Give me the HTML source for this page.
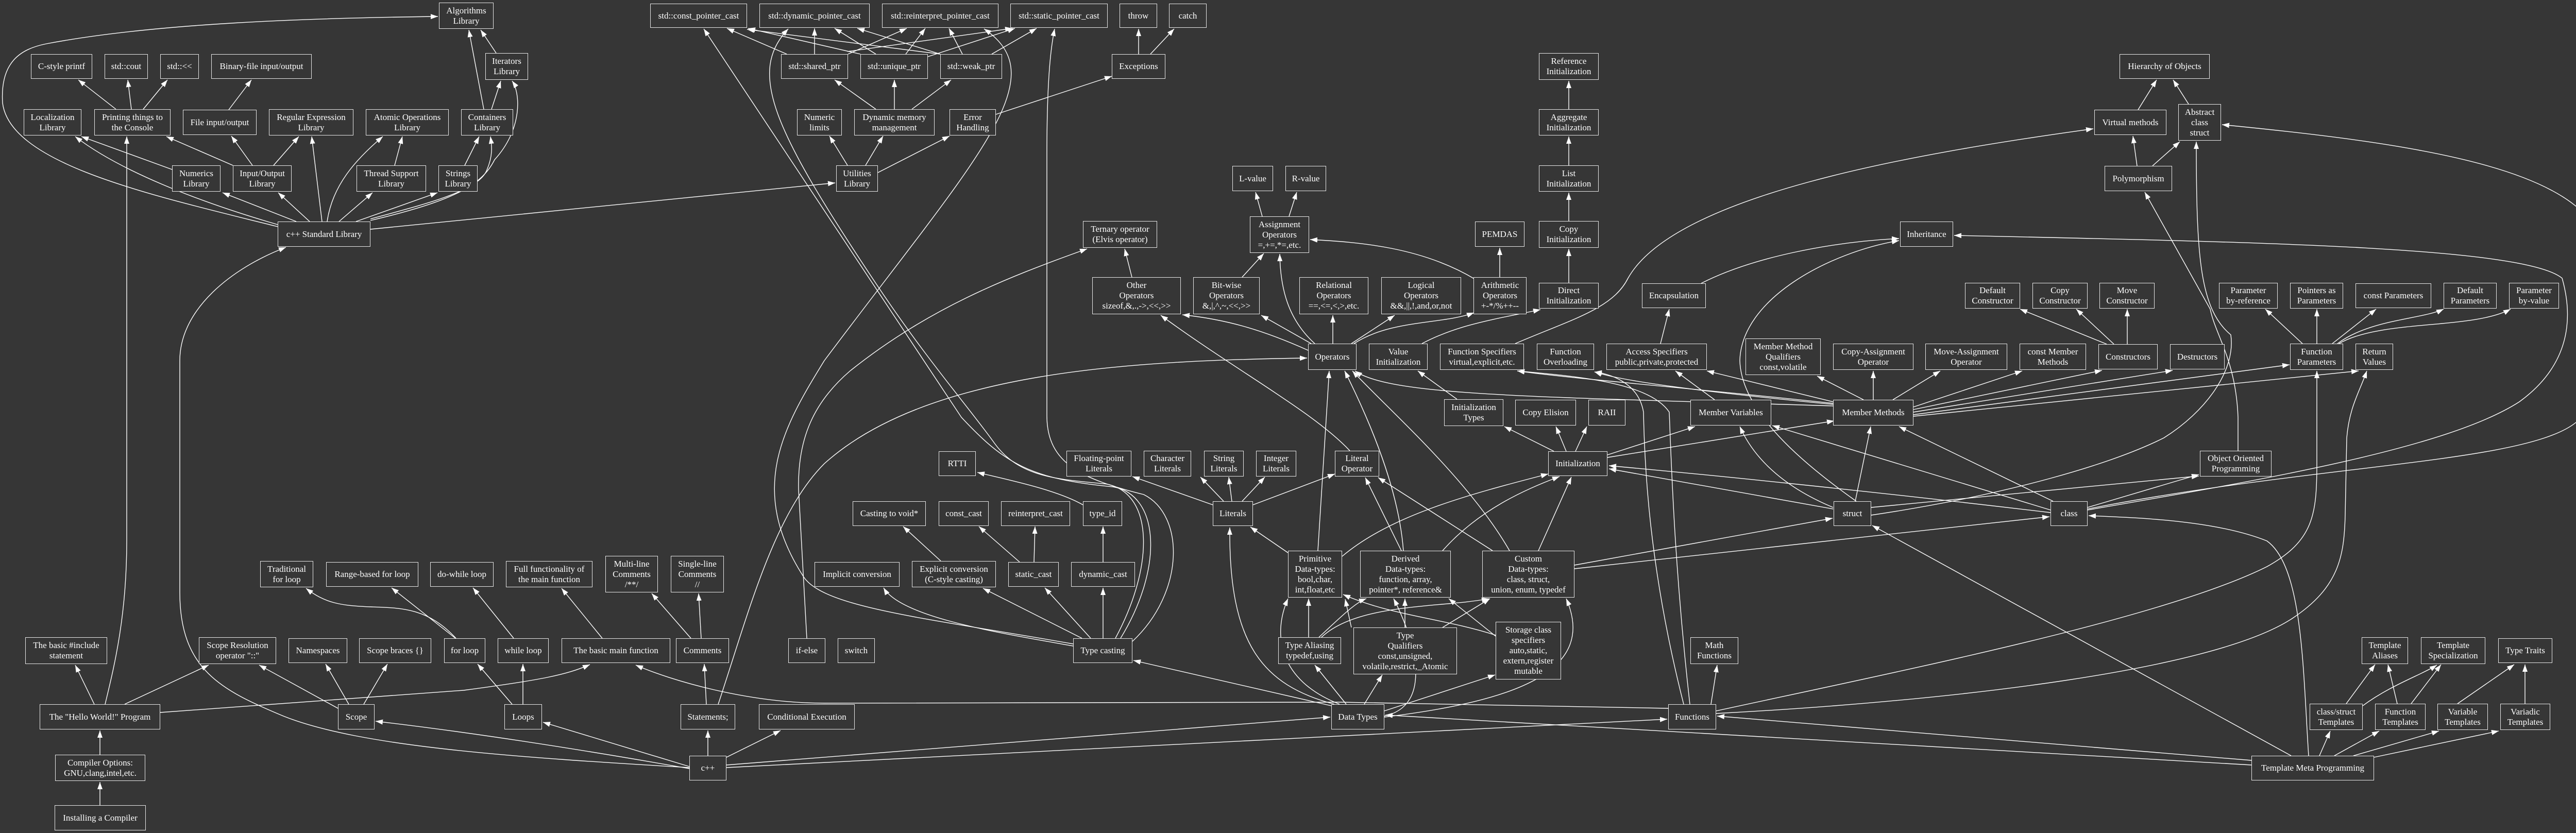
<!DOCTYPE html>
<html><head><meta charset="utf-8"><style>
body{margin:0;background:#363636;}
#c{position:relative;width:5061px;height:1617px;background:#363636;overflow:hidden;}
svg{position:absolute;left:0;top:0;}
.n{position:absolute;box-sizing:border-box;border:1.5px solid #e8e8e8;background:#363636;color:#fff;display:flex;align-items:center;justify-content:center;text-align:center;font-family:"Liberation Serif",serif;font-size:17px;line-height:20px;white-space:nowrap;}
</style></head><body><div id="c">
<svg width="5061" height="1617" viewBox="0 0 5061 1617">
<defs><marker id="a" markerUnits="userSpaceOnUse" markerWidth="14" markerHeight="10" refX="14" refY="5" orient="auto"><path d="M0,0 L14,5 L0,10 z" fill="#fff"/></marker></defs>
<g fill="none" stroke="#fff" stroke-width="1.4" marker-end="url(#a)">
<path d="M539,440 C300,380 20,320 5,200 C0,120 40,95 90,85 C300,45 600,35 850,32"/>
<path d="M539,436 C380,390 230,330 146,265"/>
<path d="M334,329 L158,265"/>
<path d="M225,212 L152,155"/>
<path d="M255,212 L248,155"/>
<path d="M278,212 L325,155"/>
<path d="M444,213 L488,155"/>
<path d="M452,321 L323,265"/>
<path d="M490,321 L449,264"/>
<path d="M531,321 L580,265"/>
<path d="M575,430 L432,374"/>
<path d="M601,430 L540,374"/>
<path d="M625,430 L605,265"/>
<path d="M635,430 C645,360 690,310 743,265"/>
<path d="M766,321 L781,265"/>
<path d="M658,430 L723,374"/>
<path d="M691,430 L849,374"/>
<path d="M902,321 L930,265"/>
<path d="M719,425 C830,395 930,370 945,330 C958,300 954,280 952,265"/>
<path d="M719,428 C880,390 935,360 960,310 C1015,250 1010,180 994,157"/>
<path d="M939,212 L910,58"/>
<path d="M954,212 L972,157"/>
<path d="M963,103 L933,58"/>
<path d="M719,445 L1621,355"/>
<path d="M1645,321 L1610,264"/>
<path d="M1680,321 L1714,264"/>
<path d="M1704,335 L1843,264"/>
<path d="M1933,222 L2158,148"/>
<path d="M2210,105 L2210,56"/>
<path d="M2233,105 L2279,56"/>
<path d="M1700,212 L1620,155"/>
<path d="M1736,212 L1736,155"/>
<path d="M1770,212 L1846,155"/>
<path d="M1527,105 L1411,55"/>
<path d="M1581,105 L1581,55"/>
<path d="M1646,105 L1760,55"/>
<path d="M1645,100 L1965,55"/>
<path d="M1670,105 L1452,55"/>
<path d="M1700,105 L1620,55"/>
<path d="M1758,105 L1796,55"/>
<path d="M1801,110 L1970,55"/>
<path d="M1825,105 L1450,57"/>
<path d="M1825,105 L1664,55"/>
<path d="M1868,105 L1842,55"/>
<path d="M1925,105 L2012,55"/>
<path d="M2165,1239 C2240,1100 2240,960 2150,940 C2060,930 1980,930 1930,860 C1880,790 1800,700 1700,550 C1500,250 1450,140 1530,56"/>
<path d="M2175,1239 C2260,1100 2250,960 2160,945 C2000,930 1950,900 1866,810 L1366,56"/>
<path d="M2083,1250 C1800,1200 1600,1180 1560,1120 C1450,950 1520,830 1600,700 C1900,300 2050,150 1910,56"/>
<path d="M2198,1245 C2300,1150 2300,1000 2220,960 C2100,930 2032,900 2032,807 L2032,300 C2032,150 2040,90 2047,56"/>
<path d="M1566,1239 L1550,950 C1548,850 1580,780 1650,720 C1800,600 1950,540 2110,483"/>
<path d="M1394,1367 C1450,1200 1500,1000 1600,900 C1800,720 2200,700 2537,695"/>
<path d="M1371,1367 L1367,1289"/>
<path d="M1341,1239 L1265,1152"/>
<path d="M1361,1239 L1356,1152"/>
<path d="M1374,1467 L1374,1418"/>
<path d="M1410,1470 L1515,1418"/>
<path d="M1338,1492 C1100,1450 900,1420 729,1400"/>
<path d="M1338,1488 L1054,1402"/>
<path d="M1338,1490 C1000,1470 700,1450 550,1390 C430,1340 349,1300 349,1150 L349,700 C349,600 450,520 555,480"/>
<path d="M3238,1375 L2600,1363 L1600,1365 C1450,1365 1300,1320 1234,1291"/>
<path d="M1410,1485 L2582,1392"/>
<path d="M1410,1490 L3236,1396"/>
<path d="M183,1367 L146,1291"/>
<path d="M204,1367 C220,1300 246,1200 246,1050 L246,265"/>
<path d="M242,1367 L405,1291"/>
<path d="M311,1383 L900,1340 C1050,1320 1100,1310 1145,1290"/>
<path d="M194,1465 L194,1418"/>
<path d="M194,1563 L194,1518"/>
<path d="M656,1375 L503,1291"/>
<path d="M677,1367 L632,1289"/>
<path d="M706,1367 L752,1289"/>
<path d="M994,1367 L927,1289"/>
<path d="M1015,1367 L1015,1289"/>
<path d="M885,1239 C830,1180 780,1180 720,1178 C660,1176 630,1170 594,1142"/>
<path d="M884,1239 L760,1141"/>
<path d="M997,1239 L918,1141"/>
<path d="M1169,1239 L1090,1142"/>
<path d="M2083,1254 C1950,1230 1750,1200 1715,1141"/>
<path d="M2100,1239 L1908,1142"/>
<path d="M2117,1239 L2028,1141"/>
<path d="M2141,1239 L2141,1141"/>
<path d="M1826,1089 L1753,1022"/>
<path d="M1979,1091 L1900,1022"/>
<path d="M2007,1091 L2009,1022"/>
<path d="M2141,1091 L2141,1022"/>
<path d="M2102,980 C2050,950 1950,930 1897,917"/>
<path d="M2584,1370 L2200,1282"/>
<path d="M2354,980 L2198,925"/>
<path d="M2375,973 L2330,926"/>
<path d="M2391,973 L2385,926"/>
<path d="M2411,973 L2455,926"/>
<path d="M2432,980 L2591,920"/>
<path d="M2500,1073 L2427,1023"/>
<path d="M2590,1367 C2450,1330 2385,1250 2387,1024"/>
<path d="M2600,1367 C2480,1320 2470,1230 2500,1162"/>
<path d="M2558,1069 L2580,720"/>
<path d="M2720,1069 L2650,927"/>
<path d="M2724,1069 C2715,950 2660,820 2610,720"/>
<path d="M2897,1069 L2675,927"/>
<path d="M2930,1069 C2850,930 2700,800 2625,720"/>
<path d="M2605,1080 C2700,1000 2850,960 3005,920"/>
<path d="M2800,1069 C2870,990 2960,950 3027,925"/>
<path d="M2986,1069 L3050,926"/>
<path d="M3016,876 L2920,828"/>
<path d="M3040,876 L3020,828"/>
<path d="M3058,876 L3080,828"/>
<path d="M3120,883 L3290,828"/>
<path d="M3120,888 L3560,817"/>
<path d="M2828,775 L2752,720"/>
<path d="M2620,875 C2550,800 2400,720 2253,612"/>
<path d="M2539,680 C2450,640 2380,620 2295,611"/>
<path d="M2545,667 L2448,612"/>
<path d="M2552,667 C2500,620 2485,560 2484,493"/>
<path d="M2587,667 L2587,612"/>
<path d="M2623,667 L2707,612"/>
<path d="M2628,667 C2700,620 2800,630 2861,607"/>
<path d="M2760,667 C2830,630 2900,620 2990,601"/>
<path d="M2863,542 C2760,480 2640,470 2543,465"/>
<path d="M2911,538 L2911,481"/>
<path d="M2450,420 L2437,373"/>
<path d="M2502,420 L2517,373"/>
<path d="M2197,538 L2183,483"/>
<path d="M2411,538 L2453,492"/>
<path d="M3045,549 L3045,483"/>
<path d="M3045,429 L3045,374"/>
<path d="M3045,321 L3045,265"/>
<path d="M3045,212 L3045,157"/>
<path d="M2941,667 C3050,620 3130,600 3160,540 C3250,380 3700,300 4063,250"/>
<path d="M3302,550 C3400,500 3550,470 3686,463"/>
<path d="M3223,667 L3240,600"/>
<path d="M3603,973 C3500,900 3380,800 3377,700 C3380,580 3550,490 3686,467"/>
<path d="M4052,990 C4400,930 4750,870 4890,780 C5000,700 4990,600 4973,540 C4900,480 4400,470 3793,457"/>
<path d="M4052,988 C4500,900 4900,900 5000,820 C5050,780 5055,700 5054,500 C5050,330 4700,280 4313,242"/>
<path d="M4148,322 L4140,264"/>
<path d="M4178,322 L4231,275"/>
<path d="M4150,213 L4186,155"/>
<path d="M4248,202 L4218,155"/>
<path d="M4344,875 L4344,810 C4340,700 4300,650 4290,600 L4163,373"/>
<path d="M3632,1000 C3900,960 4100,900 4200,850 C4280,800 4340,720 4330,650 C4270,600 4263,500 4263,275"/>
<path d="M3331,1380 C3700,1300 4200,1200 4400,1100 C4490,1050 4497,1000 4497,900 L4497,720"/>
<path d="M3331,1385 C3800,1360 4300,1300 4450,1200 C4540,1140 4550,1080 4552,1000 L4555,850 C4560,790 4580,760 4594,720"/>
<path d="M4052,985 L4268,921"/>
<path d="M3632,985 C3900,960 4100,940 4268,924"/>
<path d="M3056,1104 L3978,1003"/>
<path d="M3056,1097 L3557,1006"/>
<path d="M3558,985 C3450,940 3400,880 3377,828"/>
<path d="M3601,973 L3631,828"/>
<path d="M3558,988 L3123,910"/>
<path d="M3980,995 C3600,950 3300,920 3123,904"/>
<path d="M3980,990 L3440,826"/>
<path d="M3985,973 L3686,828"/>
<path d="M3268,1367 C3200,1100 3192,900 3190,800 C3180,740 3120,725 3095,722"/>
<path d="M3280,1367 C3250,1100 3244,900 3240,800 C3200,740 3050,730 2945,720"/>
<path d="M3558,785 C3300,760 3150,740 3095,722"/>
<path d="M3558,783 C3300,755 3050,735 2945,720"/>
<path d="M3558,780 L3313,720"/>
<path d="M3558,788 C3000,770 2700,770 2630,720"/>
<path d="M3617,776 L3527,730"/>
<path d="M3636,776 L3636,720"/>
<path d="M3674,776 L3766,720"/>
<path d="M3714,790 L3925,720"/>
<path d="M3714,795 L4080,719"/>
<path d="M3714,800 L4217,719"/>
<path d="M3714,805 L4444,708"/>
<path d="M3714,808 L4578,720"/>
<path d="M3328,776 L3252,720"/>
<path d="M4089,668 L3921,600"/>
<path d="M4103,668 L4030,600"/>
<path d="M4129,668 L4129,600"/>
<path d="M4469,667 L4397,600"/>
<path d="M4497,667 L4497,600"/>
<path d="M4527,667 L4612,600"/>
<path d="M4537,667 C4600,620 4700,620 4743,600"/>
<path d="M4540,667 C4620,620 4800,640 4873,600"/>
<path d="M3321,1367 L3333,1291"/>
<path d="M2613,1367 L2552,1291"/>
<path d="M2648,1367 L2683,1310"/>
<path d="M2687,1380 L2902,1310"/>
<path d="M2687,1390 C2780,1370 2750,1250 2705,1162"/>
<path d="M2687,1392 C2950,1360 3100,1300 3040,1162"/>
<path d="M2540,1237 L2540,1162"/>
<path d="M2560,1237 C2600,1200 2630,1170 2652,1162"/>
<path d="M2562,1240 C2630,1170 2800,1180 2890,1162"/>
<path d="M2727,1218 L2727,1162"/>
<path d="M2623,1218 L2611,1163"/>
<path d="M2800,1218 L2892,1162"/>
<path d="M2903,1235 L2812,1162"/>
<path d="M2903,1233 C2800,1200 2700,1195 2607,1154"/>
<path d="M4502,1467 L4523,1419"/>
<path d="M4531,1467 L4618,1419"/>
<path d="M4568,1467 L4734,1419"/>
<path d="M4608,1470 L4850,1419"/>
<path d="M4554,1366 L4610,1290"/>
<path d="M4586,1370 C4640,1330 4700,1310 4730,1291"/>
<path d="M4653,1366 L4635,1290"/>
<path d="M4680,1366 L4738,1290"/>
<path d="M4770,1366 L4880,1290"/>
<path d="M4901,1366 L4901,1290"/>
<path d="M4370,1485 L2689,1388"/>
<path d="M4370,1476 L3333,1390"/>
<path d="M4481,1467 C4470,1300 4470,1100 4400,1050 C4300,1010 4150,1005 4054,1001"/>
<path d="M4447,1467 L3634,1020"/>
</g></svg>
<div class="n" style="left:852px;top:5px;width:106px;height:51px">Algorithms<br>Library</div>
<div class="n" style="left:60px;top:105px;width:119px;height:48px">C-style printf</div>
<div class="n" style="left:203px;top:105px;width:84px;height:48px">std::cout</div>
<div class="n" style="left:311px;top:105px;width:75px;height:48px">std::&lt;&lt;</div>
<div class="n" style="left:410px;top:105px;width:195px;height:48px">Binary-file input/output</div>
<div class="n" style="left:942px;top:103px;width:83px;height:52px">Iterators<br>Library</div>
<div class="n" style="left:46px;top:212px;width:112px;height:51px">Localization<br>Library</div>
<div class="n" style="left:183px;top:212px;width:148px;height:51px">Printing things to<br>the Console</div>
<div class="n" style="left:355px;top:213px;width:143px;height:49px">File input/output</div>
<div class="n" style="left:522px;top:212px;width:164px;height:51px">Regular Expression<br>Library</div>
<div class="n" style="left:710px;top:212px;width:161px;height:51px">Atomic Operations<br>Library</div>
<div class="n" style="left:895px;top:212px;width:101px;height:51px">Containers<br>Library</div>
<div class="n" style="left:334px;top:321px;width:94px;height:51px">Numerics<br>Library</div>
<div class="n" style="left:452px;top:321px;width:114px;height:51px">Input/Output<br>Library</div>
<div class="n" style="left:692px;top:321px;width:135px;height:51px">Thread Support<br>Library</div>
<div class="n" style="left:851px;top:321px;width:76px;height:51px">Strings<br>Library</div>
<div class="n" style="left:539px;top:430px;width:180px;height:49px">c++ Standard Library</div>
<div class="n" style="left:1262px;top:7px;width:188px;height:47px">std::const_pointer_cast</div>
<div class="n" style="left:1474px;top:7px;width:214px;height:47px">std::dynamic_pointer_cast</div>
<div class="n" style="left:1712px;top:7px;width:226px;height:47px">std::reinterpret_pointer_cast</div>
<div class="n" style="left:1961px;top:7px;width:189px;height:47px">std::static_pointer_cast</div>
<div class="n" style="left:2173px;top:7px;width:73px;height:47px">throw</div>
<div class="n" style="left:2269px;top:7px;width:73px;height:47px">catch</div>
<div class="n" style="left:1516px;top:105px;width:130px;height:48px">std::shared_ptr</div>
<div class="n" style="left:1670px;top:105px;width:131px;height:48px">std::unique_ptr</div>
<div class="n" style="left:1825px;top:105px;width:120px;height:48px">std::weak_ptr</div>
<div class="n" style="left:2158px;top:105px;width:104px;height:48px">Exceptions</div>
<div class="n" style="left:1547px;top:212px;width:87px;height:51px">Numeric<br>limits</div>
<div class="n" style="left:1658px;top:212px;width:156px;height:51px">Dynamic memory<br>management</div>
<div class="n" style="left:1843px;top:212px;width:90px;height:51px">Error<br>Handling</div>
<div class="n" style="left:1623px;top:321px;width:81px;height:51px">Utilities<br>Library</div>
<div class="n" style="left:2392px;top:322px;width:79px;height:49px">L-value</div>
<div class="n" style="left:2495px;top:322px;width:79px;height:49px">R-value</div>
<div class="n" style="left:2102px;top:429px;width:144px;height:52px">Ternary operator<br>(Elvis operator)</div>
<div class="n" style="left:2426px;top:420px;width:115px;height:71px">Assignment<br>Operators<br>=,+=,*=,etc.</div>
<div class="n" style="left:2120px;top:538px;width:172px;height:72px">Other<br>Operators<br>sizeof,&amp;,.,-&gt;,&lt;&lt;,&gt;&gt;</div>
<div class="n" style="left:2316px;top:538px;width:129px;height:72px">Bit-wise<br>Operators<br>&amp;,|,^,~,&lt;&lt;,&gt;&gt;</div>
<div class="n" style="left:2987px;top:103px;width:116px;height:52px">Reference<br>Initialization</div>
<div class="n" style="left:2987px;top:212px;width:116px;height:51px">Aggregate<br>Initialization</div>
<div class="n" style="left:2987px;top:321px;width:116px;height:51px">List<br>Initialization</div>
<div class="n" style="left:2987px;top:429px;width:116px;height:52px">Copy<br>Initialization</div>
<div class="n" style="left:2987px;top:549px;width:116px;height:50px">Direct<br>Initialization</div>
<div class="n" style="left:2863px;top:430px;width:96px;height:49px">PEMDAS</div>
<div class="n" style="left:2522px;top:538px;width:134px;height:72px">Relational<br>Operators<br>==,&lt;=,&lt;,&gt;,etc.</div>
<div class="n" style="left:2681px;top:538px;width:155px;height:72px">Logical<br>Operators<br>&amp;&amp;,||,!,and,or,not</div>
<div class="n" style="left:2860px;top:538px;width:103px;height:72px">Arithmetic<br>Operators<br>+-*/%++--</div>
<div class="n" style="left:3688px;top:430px;width:103px;height:49px">Inheritance</div>
<div class="n" style="left:3187px;top:550px;width:124px;height:48px">Encapsulation</div>
<div class="n" style="left:2539px;top:667px;width:94px;height:51px">Operators</div>
<div class="n" style="left:2657px;top:667px;width:114px;height:51px">Value<br>Initialization</div>
<div class="n" style="left:2795px;top:667px;width:163px;height:51px">Function Specifiers<br>virtual,explicit,etc.</div>
<div class="n" style="left:2983px;top:667px;width:111px;height:51px">Function<br>Overloading</div>
<div class="n" style="left:3118px;top:667px;width:195px;height:51px">Access Specifiers<br>public,private,protected</div>
<div class="n" style="left:3388px;top:657px;width:146px;height:71px">Member Method<br>Qualifiers<br>const,volatile</div>
<div class="n" style="left:3558px;top:667px;width:156px;height:51px">Copy-Assignment<br>Operator</div>
<div class="n" style="left:3737px;top:667px;width:159px;height:51px">Move-Assignment<br>Operator</div>
<div class="n" style="left:2803px;top:775px;width:115px;height:52px">Initialization<br>Types</div>
<div class="n" style="left:2941px;top:776px;width:118px;height:50px">Copy Elision</div>
<div class="n" style="left:3083px;top:776px;width:72px;height:50px">RAII</div>
<div class="n" style="left:3281px;top:776px;width:157px;height:50px">Member Variables</div>
<div class="n" style="left:3558px;top:776px;width:156px;height:50px">Member Methods</div>
<div class="n" style="left:4114px;top:105px;width:175px;height:48px">Hierarchy of Objects</div>
<div class="n" style="left:4065px;top:213px;width:140px;height:49px">Virtual methods</div>
<div class="n" style="left:4228px;top:202px;width:83px;height:71px">Abstract<br>class<br>struct</div>
<div class="n" style="left:4085px;top:322px;width:131px;height:49px">Polymorphism</div>
<div class="n" style="left:3814px;top:549px;width:107px;height:50px">Default<br>Constructor</div>
<div class="n" style="left:3945px;top:549px;width:107px;height:50px">Copy<br>Constructor</div>
<div class="n" style="left:4075px;top:549px;width:107px;height:50px">Move<br>Constructor</div>
<div class="n" style="left:4307px;top:549px;width:114px;height:50px">Parameter<br>by-reference</div>
<div class="n" style="left:4445px;top:549px;width:103px;height:50px">Pointers as<br>Parameters</div>
<div class="n" style="left:4572px;top:550px;width:147px;height:48px">const Parameters</div>
<div class="n" style="left:4743px;top:549px;width:103px;height:50px">Default<br>Parameters</div>
<div class="n" style="left:4870px;top:549px;width:97px;height:50px">Parameter<br>by-value</div>
<div class="n" style="left:3920px;top:667px;width:129px;height:51px">const Member<br>Methods</div>
<div class="n" style="left:4073px;top:668px;width:115px;height:49px">Constructors</div>
<div class="n" style="left:4212px;top:668px;width:106px;height:49px">Destructors</div>
<div class="n" style="left:4445px;top:667px;width:103px;height:51px">Function<br>Parameters</div>
<div class="n" style="left:4572px;top:667px;width:73px;height:51px">Return<br>Values</div>
<div class="n" style="left:505px;top:1089px;width:103px;height:51px">Traditional<br>for loop</div>
<div class="n" style="left:633px;top:1091px;width:179px;height:48px">Range-based for loop</div>
<div class="n" style="left:835px;top:1091px;width:123px;height:48px">do-while loop</div>
<div class="n" style="left:982px;top:1089px;width:168px;height:51px">Full functionality of<br>the main function</div>
<div class="n" style="left:1175px;top:1079px;width:102px;height:71px">Multi-line<br>Comments<br>/**/</div>
<div class="n" style="left:49px;top:1237px;width:159px;height:52px">The basic #include<br>statement</div>
<div class="n" style="left:386px;top:1237px;width:150px;height:52px">Scope Resolution<br>operator "::"</div>
<div class="n" style="left:560px;top:1239px;width:114px;height:48px">Namespaces</div>
<div class="n" style="left:697px;top:1239px;width:140px;height:48px">Scope braces {}</div>
<div class="n" style="left:862px;top:1239px;width:80px;height:48px">for loop</div>
<div class="n" style="left:966px;top:1239px;width:99px;height:48px">while loop</div>
<div class="n" style="left:1090px;top:1239px;width:211px;height:48px">The basic main function</div>
<div class="n" style="left:77px;top:1367px;width:234px;height:49px">The "Hello World!" Program</div>
<div class="n" style="left:656px;top:1367px;width:71px;height:49px">Scope</div>
<div class="n" style="left:979px;top:1367px;width:73px;height:49px">Loops</div>
<div class="n" style="left:107px;top:1465px;width:175px;height:51px">Compiler Options:<br>GNU,clang,intel,etc.</div>
<div class="n" style="left:106px;top:1563px;width:177px;height:49px">Installing a Compiler</div>
<div class="n" style="left:1822px;top:876px;width:72px;height:48px">RTTI</div>
<div class="n" style="left:2070px;top:875px;width:126px;height:50px">Floating-point<br>Literals</div>
<div class="n" style="left:2220px;top:875px;width:92px;height:50px">Character<br>Literals</div>
<div class="n" style="left:2337px;top:875px;width:77px;height:50px">String<br>Literals</div>
<div class="n" style="left:2438px;top:875px;width:78px;height:50px">Integer<br>Literals</div>
<div class="n" style="left:1655px;top:973px;width:142px;height:48px">Casting to void*</div>
<div class="n" style="left:1822px;top:973px;width:97px;height:48px">const_cast</div>
<div class="n" style="left:1943px;top:973px;width:134px;height:48px">reinterpret_cast</div>
<div class="n" style="left:2102px;top:973px;width:76px;height:48px">type_id</div>
<div class="n" style="left:2354px;top:973px;width:78px;height:48px">Literals</div>
<div class="n" style="left:1302px;top:1079px;width:103px;height:71px">Single-line<br>Comments<br>//</div>
<div class="n" style="left:1581px;top:1091px;width:165px;height:48px">Implicit conversion</div>
<div class="n" style="left:1770px;top:1089px;width:163px;height:51px">Explicit conversion<br>(C-style casting)</div>
<div class="n" style="left:1957px;top:1091px;width:98px;height:48px">static_cast</div>
<div class="n" style="left:2079px;top:1091px;width:124px;height:48px">dynamic_cast</div>
<div class="n" style="left:2500px;top:1069px;width:105px;height:91px">Primitive<br>Data-types:<br>bool,char,<br>int,float,etc</div>
<div class="n" style="left:1312px;top:1239px;width:103px;height:48px">Comments</div>
<div class="n" style="left:1530px;top:1239px;width:72px;height:48px">if-else</div>
<div class="n" style="left:1626px;top:1239px;width:72px;height:48px">switch</div>
<div class="n" style="left:2083px;top:1239px;width:115px;height:48px">Type casting</div>
<div class="n" style="left:2481px;top:1237px;width:122px;height:52px">Type Aliasing<br>typedef,using</div>
<div class="n" style="left:1321px;top:1367px;width:106px;height:49px">Statements;</div>
<div class="n" style="left:1473px;top:1367px;width:186px;height:49px">Conditional Execution</div>
<div class="n" style="left:1338px;top:1467px;width:72px;height:48px">c++</div>
<div class="n" style="left:2591px;top:875px;width:86px;height:50px">Literal<br>Operator</div>
<div class="n" style="left:3005px;top:876px;width:115px;height:48px">Initialization</div>
<div class="n" style="left:3559px;top:973px;width:73px;height:48px">struct</div>
<div class="n" style="left:2640px;top:1069px;width:176px;height:91px">Derived<br>Data-types:<br>function, array,<br>pointer*, reference&amp;</div>
<div class="n" style="left:2877px;top:1069px;width:179px;height:91px">Custom<br>Data-types:<br>class, struct,<br>union, enum, typedef</div>
<div class="n" style="left:2627px;top:1218px;width:201px;height:91px">Type<br>Qualifiers<br>const,unsigned,<br>volatile,restrict,_Atomic</div>
<div class="n" style="left:2903px;top:1207px;width:127px;height:112px">Storage class<br>specifiers<br>auto,static,<br>extern,register<br>mutable</div>
<div class="n" style="left:3281px;top:1237px;width:93px;height:52px">Math<br>Functions</div>
<div class="n" style="left:2584px;top:1367px;width:103px;height:49px">Data Types</div>
<div class="n" style="left:3238px;top:1367px;width:93px;height:49px">Functions</div>
<div class="n" style="left:4270px;top:875px;width:139px;height:50px">Object Oriented<br>Programming</div>
<div class="n" style="left:3980px;top:973px;width:72px;height:48px">class</div>
<div class="n" style="left:4584px;top:1237px;width:90px;height:52px">Template<br>Aliases</div>
<div class="n" style="left:4699px;top:1237px;width:125px;height:52px">Template<br>Specialization</div>
<div class="n" style="left:4849px;top:1239px;width:105px;height:48px">Type Traits</div>
<div class="n" style="left:4483px;top:1366px;width:103px;height:51px">class/struct<br>Templates</div>
<div class="n" style="left:4610px;top:1366px;width:98px;height:51px">Function<br>Templates</div>
<div class="n" style="left:4731px;top:1366px;width:98px;height:51px">Variable<br>Templates</div>
<div class="n" style="left:4853px;top:1366px;width:97px;height:51px">Variadic<br>Templates</div>
<div class="n" style="left:4370px;top:1467px;width:238px;height:48px">Template Meta Programming</div>
</div></body></html>
